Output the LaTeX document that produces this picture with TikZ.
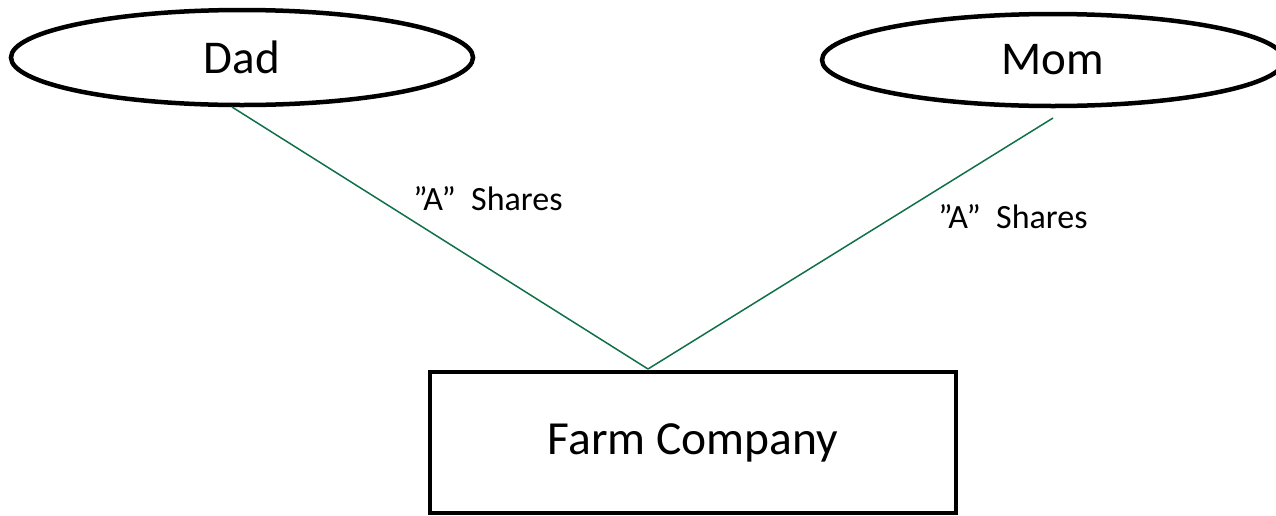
\documentclass[tikz,border=0pt]{standalone}
\usepackage{fontspec}
\setmainfont{Carlito}
\usetikzlibrary{shapes.geometric}
\definecolor{linkgreen}{RGB}{16,112,72}
\begin{document}
\begin{tikzpicture}[x=1pt,y=-1pt,
  person/.style={draw=black,line width=4.5pt,ellipse,inner sep=0pt,minimum width=462pt,minimum height=95pt,font=\fontsize{47}{56}\selectfont},
  company/.style={draw=black,line width=4.5pt,rectangle,inner sep=0pt,minimum width=526pt,minimum height=141pt,font=\fontsize{47.5}{56}\selectfont},
  link/.style={draw=linkgreen,line width=1.5pt},
  lbl/.style={inner sep=0pt,font=\fontsize{34}{40}\selectfont}]
\useasboundingbox (0,0) rectangle (1276,515);
\node[person] (dad) at (242,57.5) {Dad};
\node[person,minimum height=92pt] (mom) at (1053,60) {Mom};
\node[company] (fc) at (693,442.5) {Farm Company};
\coordinate (dadend) at (232,107);
\coordinate (momend) at (1053,118);
\coordinate (meet) at (648,369);
\draw[link] (dadend) -- (meet);
\draw[link] (momend) -- (meet);
\node[lbl] (l1) at (488,199) {”A”\ \ Shares};
\node[lbl] (l2) at (1013,217) {”A”\ \ Shares};
\end{tikzpicture}
\end{document}
